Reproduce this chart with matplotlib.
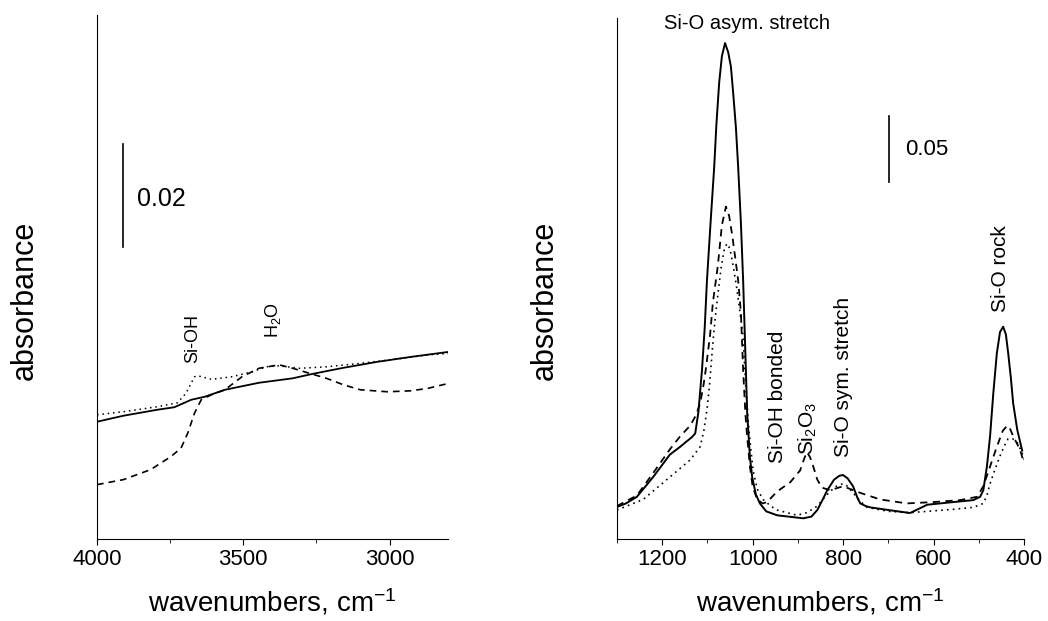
import matplotlib
matplotlib.use("Agg")
import matplotlib.pyplot as plt
from matplotlib.ticker import MultipleLocator

plt.rcParams['font.family'] = ['Liberation Sans', 'DejaVu Sans']
plt.rcParams['mathtext.default'] = 'regular'

# ---- left panel: O-H region (wavenumber, absorbance) ----
oh_solid_x = [4000, 3910, 3794, 3736, 3678, 3632, 3563, 3447, 3331, 3262, 3158, 3042, 2926, 2797]
oh_solid_y = [0.0235, 0.0247, 0.0259, 0.0264, 0.0279, 0.0285, 0.0299, 0.0313, 0.0322, 0.0331,
              0.0343, 0.0355, 0.0365, 0.0375]
oh_dot_x = [4000, 3910, 3794, 3725, 3696, 3667, 3655, 3609, 3540, 3470, 3424, 3378, 3308, 3216,
            3100, 2984, 2868, 2797]
oh_dot_y = [0.0249, 0.0255, 0.0265, 0.0273, 0.0292, 0.0325, 0.0327, 0.0320, 0.0325, 0.0335,
            0.0345, 0.0347, 0.0342, 0.0345, 0.0352, 0.0360, 0.0369, 0.0372]
oh_dash_x = [4000, 3910, 3817, 3748, 3713, 3690, 3667, 3644, 3609, 3563, 3505, 3447, 3378, 3331,
             3274, 3216, 3158, 3100, 3007, 2926, 2868, 2797]
oh_dash_y = [0.0109, 0.0119, 0.0139, 0.0165, 0.0182, 0.0212, 0.0252, 0.0279, 0.0289, 0.0299,
             0.0325, 0.0342, 0.0349, 0.0342, 0.0332, 0.0322, 0.0309, 0.0299, 0.0295, 0.0297,
             0.0302, 0.0312]

# ---- right panel: Si-O region ----
so_solid_x = [1300, 1280, 1256, 1220, 1183, 1160, 1146, 1135, 1127, 1120, 1112, 1106, 1101, 1093,
              1085, 1080, 1074, 1068, 1061, 1054, 1048, 1043, 1037, 1032, 1026, 1021, 1016, 1012,
              1006, 1001, 993, 984, 970, 946, 888, 870, 857, 845, 835, 820, 808, 800, 790, 778,
              768, 762, 750, 740, 700, 652, 614, 557, 512, 497, 490, 482, 475, 468, 460, 453,
              446, 440, 435, 429, 424, 415, 404]
so_solid_y = [0.0243, 0.027, 0.032, 0.047, 0.064, 0.070, 0.074, 0.077, 0.080, 0.096, 0.128, 0.160,
              0.196, 0.240, 0.282, 0.315, 0.346, 0.366, 0.376, 0.369, 0.358, 0.338, 0.312, 0.282,
              0.240, 0.196, 0.140, 0.095, 0.062, 0.047, 0.034, 0.027, 0.021, 0.018, 0.0157, 0.017,
              0.022, 0.030, 0.037, 0.045, 0.048, 0.0485, 0.046, 0.040, 0.031, 0.027, 0.025, 0.024,
              0.022, 0.0197, 0.026, 0.028, 0.0295, 0.032, 0.037, 0.055, 0.078, 0.110, 0.141,
              0.157, 0.161, 0.155, 0.141, 0.122, 0.103, 0.083, 0.067]
so_dash_x = [1300, 1256, 1220, 1183, 1160, 1138, 1125, 1116, 1108, 1103, 1094, 1088, 1077, 1068,
             1059, 1052, 1045, 1038, 1032, 1026, 1021, 1016, 1012, 1006, 1000, 990, 978, 968,
             946, 917, 895, 887, 880, 873, 866, 857, 847, 829, 800, 762, 718, 659, 601, 541,
             504, 490, 482, 470, 460, 447, 437, 430, 424, 409, 402]
so_dash_y = [0.025, 0.033, 0.050, 0.068, 0.078, 0.086, 0.094, 0.103, 0.118, 0.130, 0.155, 0.179,
             0.207, 0.238, 0.252, 0.245, 0.230, 0.212, 0.196, 0.172, 0.128, 0.095, 0.077, 0.055,
             0.040, 0.030, 0.027, 0.028, 0.036, 0.043, 0.052, 0.060, 0.066, 0.062, 0.055, 0.045,
             0.039, 0.037, 0.040, 0.035, 0.030, 0.027, 0.028, 0.0295, 0.032, 0.040, 0.048,
             0.060, 0.070, 0.082, 0.086, 0.083, 0.078, 0.068, 0.060]
so_dot_x = [1300, 1242, 1183, 1138, 1116, 1108, 1101, 1095, 1090, 1085, 1079, 1070, 1063, 1057,
            1050, 1043, 1035, 1028, 1021, 1016, 1010, 1004, 999, 990, 977, 960, 946, 902, 880,
            857, 840, 829, 815, 800, 790, 778, 760, 747, 700, 652, 557, 512, 490, 482, 475, 465,
            453, 443, 435, 425, 415, 405, 398]
so_dot_y = [0.022, 0.030, 0.047, 0.060, 0.070, 0.082, 0.098, 0.118, 0.140, 0.160, 0.179, 0.205,
            0.219, 0.224, 0.220, 0.207, 0.190, 0.172, 0.153, 0.120, 0.090, 0.068, 0.052, 0.038,
            0.030, 0.025, 0.022, 0.018, 0.020, 0.025, 0.032, 0.036, 0.040, 0.042, 0.040, 0.035,
            0.028, 0.024, 0.021, 0.020, 0.0225, 0.024, 0.027, 0.033, 0.042, 0.052, 0.063, 0.071,
            0.076, 0.076, 0.073, 0.066, 0.059]

fig = plt.figure(figsize=(10.48, 6.21), dpi=100)
ax1 = fig.add_axes([0.0926, 0.132, 0.335, 0.844])
ax2 = fig.add_axes([0.5887, 0.132, 0.3884, 0.839])

for ax in (ax1, ax2):
    ax.spines['top'].set_visible(False)
    ax.spines['right'].set_visible(False)
    ax.set_yticks([])
    ax.tick_params(axis='x', which='major', direction='out', length=4, pad=3, labelsize=16)
    ax.tick_params(axis='x', which='minor', direction='out', length=3)

# left
ax1.plot(oh_solid_x, oh_solid_y, color='black', lw=1.3)
ax1.plot(oh_dot_x, oh_dot_y, color='black', lw=1.1, ls=(0, (1, 2.5)))
ax1.plot(oh_dash_x, oh_dash_y, color='black', lw=1.2, ls=(0, (4, 3)))
ax1.set_xlim(4000, 2800)
ax1.set_ylim(0, 0.105)
ax1.set_xticks([4000, 3500, 3000])
ax1.xaxis.set_minor_locator(MultipleLocator(250))
ax1.plot([3911, 3911], [0.0586, 0.0792], color='black', lw=1.2)
ax1.text(3863, 0.0682, '0.02', fontsize=18, va='center', ha='left')
ax1.text(3674, 0.0352, 'Si-OH', rotation=90, fontsize=13, ha='center', va='bottom')
ax1.text(3399, 0.0402, 'H$_2$O', rotation=90, fontsize=13, ha='center', va='bottom')
ax1.set_xlabel('wavenumbers, cm$^{-1}$', fontsize=20, labelpad=12)

# right
ax2.plot(so_solid_x, so_solid_y, color='black', lw=1.4)
ax2.plot(so_dash_x, so_dash_y, color='black', lw=1.3, ls=(0, (4, 3)))
ax2.plot(so_dot_x, so_dot_y, color='black', lw=1.2, ls=(0, (1, 2.5)))
ax2.set_xlim(1300, 400)
ax2.set_ylim(0, 0.395)
ax2.set_xticks([1200, 1000, 800, 600, 400])
ax2.xaxis.set_minor_locator(MultipleLocator(100))
ax2.plot([698, 698], [0.2706, 0.3206], color='black', lw=1.2)
ax2.text(663, 0.295, '0.05', fontsize=16, va='center', ha='left')
ax2.text(1012, 0.391, 'Si-O asym. stretch', fontsize=14.5, ha='center', va='center')
ax2.text(944, 0.0576, 'Si-OH bonded', rotation=90, fontsize=15, ha='center', va='bottom')
ax2.text(877, 0.064, 'Si$_2$O$_3$', rotation=90, fontsize=15, ha='center', va='bottom')
ax2.text(800, 0.062, 'Si-O sym. stretch', rotation=90, fontsize=15, ha='center', va='bottom')
ax2.text(453, 0.172, 'Si-O rock', rotation=90, fontsize=15, ha='center', va='bottom')
ax2.set_xlabel('wavenumbers, cm$^{-1}$', fontsize=20, labelpad=12)

fig.text(25 / 1048, 0.517, 'absorbance', rotation=90, fontsize=22, ha='center', va='center')
fig.text(545 / 1048, 0.517, 'absorbance', rotation=90, fontsize=22, ha='center', va='center')

fig.savefig('out.png', dpi=100)
